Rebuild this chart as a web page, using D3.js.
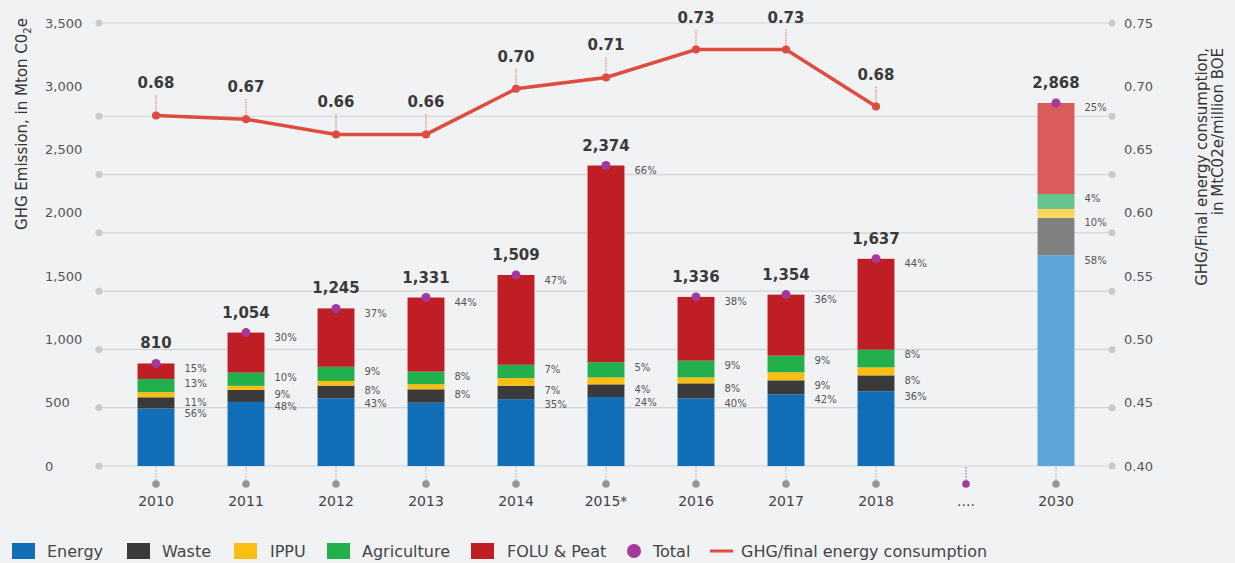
<!DOCTYPE html>
<html lang="en">
<head>
  <meta charset="UTF-8">
  <title>GHG Emission by Sector</title>
  <script src="https://d3js.org/d3.v7.min.js"></script>
  <style>
    body {
      margin: 0;
      background: #f1f2f4;
    }

    svg {
      display: block;
      font-family: "DejaVu Sans", sans-serif;
    }

    .tick-label {
      font-size: 13px;
      fill: #555;
    }

    .pct {
      font-size: 10px;
      fill: #555;
    }

    .value {
      font-size: 15px;
      font-weight: bold;
      fill: #3a3a3a;
    }

    .legend text {
      font-size: 16px;
      fill: #444;
    }
  </style>
</head>
<body>
  <div id="chart"></div>
  <script>
    const width = 1235, height = 563;

    // data (Mton CO2e)
    const years = ["2010", "2011", "2012", "2013", "2014", "2015*", "2016", "2017", "2018", "....", "2030"];
    const energy = [454, 506, 535, 500, 528, 545, 535, 566, 590, null, 1665];
    const waste = [89, 95, 100, 106, 106, 100, 118, 111, 126, null, 295];
    const ippu = [40, 32, 37, 40, 60, 55, 47, 63, 63, null, 71];
    const agriculture = [105, 105, 112, 100, 106, 120, 132, 132, 140, null, 118];
    const folu = [122, 316, 461, 585, 709, 1554, 504, 482, 718, null, 719];
    const totals = [810, 1054, 1245, 1331, 1509, 2374, 1336, 1354, 1637, null, 2868];

    const pctEnergy = ["56%", "48%", "43%", null, "35%", "24%", "40%", "42%", "36%", null, "58%"];
    const pctWaste = ["11%", "9%", "8%", "8%", "7%", "4%", "8%", "9%", "8%", null, "10%"];
    const pctIppu = [null, null, null, null, null, null, null, null, null, null, null];
    const pctAgri = ["13%", "10%", "9%", "8%", "7%", "5%", "9%", "9%", "8%", null, "4%"];
    const pctFolu = ["15%", "30%", "37%", "44%", "47%", "66%", "38%", "36%", "44%", null, "25%"];

    // GHG / final energy consumption, MtCO2e per million BOE
    const ratioYears = ["2010", "2011", "2012", "2013", "2014", "2015*", "2016", "2017", "2018"];
    const ratio = [0.677, 0.674, 0.662, 0.662, 0.698, 0.707, 0.729, 0.729, 0.684];
    const ratioLabels = ["0.68", "0.67", "0.66", "0.66", "0.70", "0.71", "0.73", "0.73", "0.68"];

    const leftTicks = [0, 500, 1000, 1500, 2000, 2500, 3000, 3500];
    const rightTicks = [0.40, 0.45, 0.50, 0.55, 0.60, 0.65, 0.70, 0.75];
    const gridValues = [0, 500, 1000, 1500, 2000, 2500, 3000, 3800];

    const sectors = [
      { name: "Energy", values: energy, pct: pctEnergy, color: "#106fb8", light: "#5ba5d8" },
      { name: "Waste", values: waste, pct: pctWaste, color: "#3a3a3a", light: "#808080" },
      { name: "IPPU", values: ippu, pct: pctIppu, color: "#fdbe14", light: "#fdd55e" },
      { name: "Agriculture", values: agriculture, pct: pctAgri, color: "#21b04b", light: "#66c38c" },
      { name: "FOLU & Peat", values: folu, pct: pctFolu, color: "#be1e24", light: "#d95b5b" }
    ];

    const totalColor = "#a3399a";
    const lineColor = "#dd4c3e";

    const svg = d3.select("#chart")
      .append("svg")
      .attr("width", width)
      .attr("height", height);

    const x = d3.scaleBand()
      .domain(years)
      .range([111, 1101])
      .paddingInner(0.59)
      .paddingOuter(0.295);

    const y = d3.scaleLinear().domain([0, 3500]).range([466, 23]);
    const yRight = d3.scaleLinear().domain([0.40, 0.75]).range([466, 23]);
    // the background grid is on its own spacing in the original
    const yGrid = d3.scaleLinear().domain([0, 3800]).range([466, 23]);

    // grid lines with end dots
    const grid = svg.append("g");
    grid.selectAll("line")
      .data(gridValues)
      .enter().append("line")
      .attr("x1", 99).attr("x2", 1112)
      .attr("y1", d => yGrid(d)).attr("y2", d => yGrid(d))
      .attr("stroke", "#d2d3d6")
      .attr("stroke-width", 1.2);
    [99, 1112].forEach(cx => {
      grid.selectAll(null)
        .data(gridValues)
        .enter().append("circle")
        .attr("cx", cx)
        .attr("cy", d => yGrid(d))
        .attr("r", 3.5)
        .attr("fill", "#c9cacd");
    });

    // axis labels
    svg.append("g").selectAll("text")
      .data(leftTicks)
      .enter().append("text")
      .attr("class", "tick-label")
      .attr("x", 45)
      .attr("y", d => y(d))
      .attr("dy", "0.35em")
      .text(d => d3.format(",")(d));

    svg.append("g").selectAll("text")
      .data(rightTicks)
      .enter().append("text")
      .attr("class", "tick-label")
      .attr("x", 1124)
      .attr("y", d => yRight(d))
      .attr("dy", "0.35em")
      .text(d => d.toFixed(2));

    const leftTitle = svg.append("text")
      .attr("transform", "translate(27,124) rotate(-90)")
      .attr("text-anchor", "middle")
      .style("font-size", "15px")
      .style("fill", "#333");
    leftTitle.append("tspan").text("GHG Emission, in Mton C0");
    leftTitle.append("tspan").attr("dy", 4).style("font-size", "10px").text("2");
    leftTitle.append("tspan").attr("dy", -4).text("e");

    [["GHG/Final energy consumption,", 1207], ["in MtC02e/million BOE", 1223]].forEach(([t, tx]) => {
      svg.append("text")
        .attr("transform", `translate(${tx},48) rotate(-90)`)
        .attr("text-anchor", "end")
        .style("font-size", "15px")
        .style("fill", "#333")
        .text(t);
    });

    // stacked bars
    const rows = years.map((yr, i) => {
      let base = 0;
      const segs = sectors.map(s => {
        const v = s.values[i] || 0;
        const seg = { year: yr, y0: base, y1: base + v, pct: s.pct[i], color: yr === "2030" ? s.light : s.color };
        base += v;
        return seg;
      });
      return { year: yr, segs: segs, total: totals[i] };
    });

    const barG = svg.append("g");
    const barCol = barG.selectAll("g")
      .data(rows.filter(r => r.total != null))
      .enter().append("g");

    barCol.selectAll("rect")
      .data(r => r.segs.filter(s => s.y1 > s.y0))
      .enter().append("rect")
      .attr("x", d => x(d.year))
      .attr("width", x.bandwidth())
      .attr("y", d => y(d.y1))
      .attr("height", d => y(d.y0) - y(d.y1))
      .attr("fill", d => d.color);

    barCol.selectAll("text.pct")
      .data(r => r.segs.filter(s => s.pct))
      .enter().append("text")
      .attr("class", "pct")
      .attr("x", d => x(d.year) + x.bandwidth() + 10)
      .attr("y", d => y(d.y1) + 5)
      .attr("dy", "0.35em")
      .text(d => d.pct);

    barCol.append("circle")
      .attr("cx", d => x(d.year) + x.bandwidth() / 2)
      .attr("cy", d => y(d.total))
      .attr("r", 4.5)
      .attr("fill", totalColor);

    barCol.append("text")
      .attr("class", "value")
      .attr("text-anchor", "middle")
      .attr("x", d => x(d.year) + x.bandwidth() / 2)
      .attr("y", d => y(d.total) - 15)
      .text(d => d3.format(",")(d.total));

    // x axis: dashed stems, dots and year labels
    const xg = svg.append("g");
    const cx = d => x(d) + x.bandwidth() / 2;
    xg.selectAll("line")
      .data(years)
      .enter().append("line")
      .attr("x1", cx).attr("x2", cx)
      .attr("y1", 467).attr("y2", 484)
      .attr("stroke", d => d === "...." ? totalColor : "#a5a5a5")
      .attr("stroke-dasharray", "1.5,1.5");
    xg.selectAll("circle")
      .data(years)
      .enter().append("circle")
      .attr("cx", cx)
      .attr("cy", 484)
      .attr("r", 3.8)
      .attr("fill", d => d === "...." ? totalColor : "#959595");
    xg.selectAll("text")
      .data(years)
      .enter().append("text")
      .attr("x", cx)
      .attr("y", 501)
      .attr("dy", "0.35em")
      .attr("text-anchor", "middle")
      .style("font-size", "14px")
      .style("fill", "#444")
      .text(d => d);

    // intensity line
    const lineData = ratioYears.map((yr, i) => ({ year: yr, v: ratio[i], label: ratioLabels[i] }));
    const line = d3.line()
      .x(d => cx(d.year))
      .y(d => yRight(d.v));

    const lg = svg.append("g");
    lg.selectAll("line")
      .data(lineData)
      .enter().append("line")
      .attr("x1", d => cx(d.year)).attr("x2", d => cx(d.year))
      .attr("y1", d => yRight(d.v) - 20).attr("y2", d => yRight(d.v))
      .attr("stroke", lineColor)
      .attr("stroke-width", 0.8)
      .attr("stroke-dasharray", "1.5,1");
    lg.append("path")
      .datum(lineData)
      .attr("d", line)
      .attr("fill", "none")
      .attr("stroke", lineColor)
      .attr("stroke-width", 3.5);
    lg.selectAll("circle")
      .data(lineData)
      .enter().append("circle")
      .attr("cx", d => cx(d.year))
      .attr("cy", d => yRight(d.v))
      .attr("r", 4)
      .attr("fill", lineColor);
    lg.selectAll("text")
      .data(lineData)
      .enter().append("text")
      .attr("class", "value")
      .attr("text-anchor", "middle")
      .attr("x", d => cx(d.year))
      .attr("y", d => yRight(d.v) - 27)
      .text(d => d.label);

    // legend
    const legend = svg.append("g").attr("class", "legend");
    const legendX = [[12, 47], [127, 162], [234, 270], [327, 362], [471, 507]];
    sectors.forEach((s, i) => {
      legend.append("rect")
        .attr("x", legendX[i][0]).attr("y", 543)
        .attr("width", 23).attr("height", 16)
        .attr("fill", s.color);
      legend.append("text")
        .attr("x", legendX[i][1]).attr("y", 551)
        .attr("dy", "0.35em")
        .text(s.name);
    });
    legend.append("circle")
      .attr("cx", 634).attr("cy", 551).attr("r", 7)
      .attr("fill", totalColor);
    legend.append("text")
      .attr("x", 653).attr("y", 551).attr("dy", "0.35em")
      .text("Total");
    legend.append("line")
      .attr("x1", 710).attr("x2", 733)
      .attr("y1", 551).attr("y2", 551)
      .attr("stroke", lineColor)
      .attr("stroke-width", 3);
    legend.append("text")
      .attr("x", 741).attr("y", 551).attr("dy", "0.35em")
      .text("GHG/final energy consumption");
  </script>
</body>
</html>
